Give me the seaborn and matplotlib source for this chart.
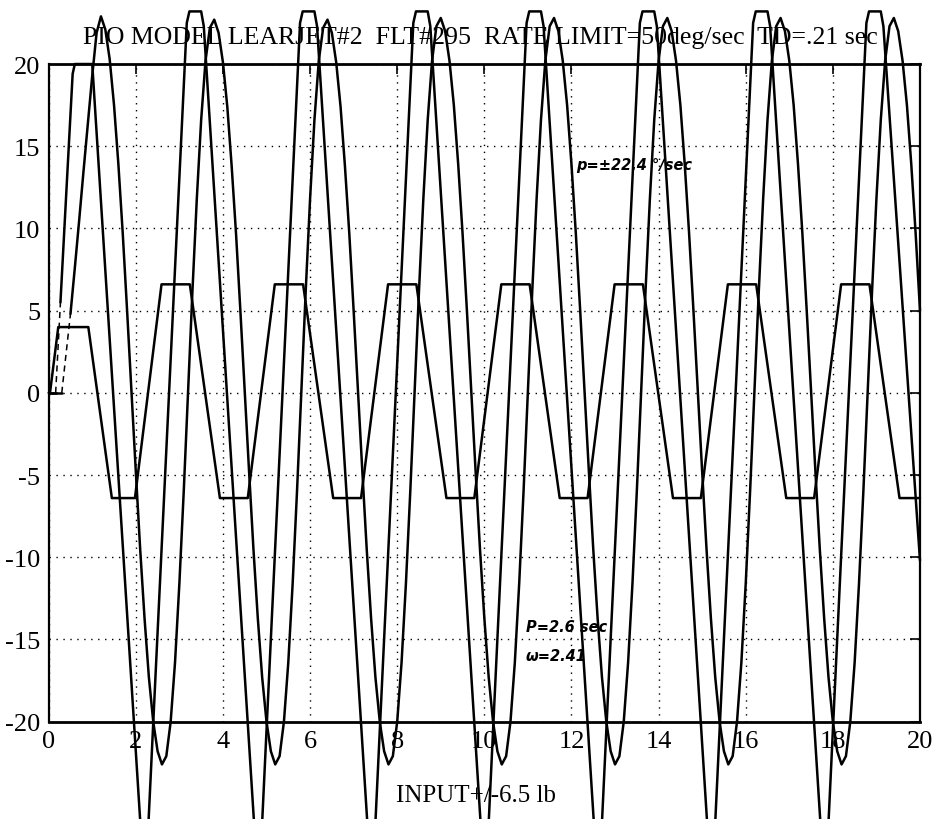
import numpy as np
import matplotlib
matplotlib.use("Agg")
import matplotlib.pyplot as plt
import seaborn as sns

sns.set_theme(style="white")
plt.rcParams['font.family'] = ['Liberation Serif', 'DejaVu Sans']
plt.rcParams['axes.unicode_minus'] = False

# stick input (rate limited trapezoid), corners
input_time = [0.0, 0.03, 0.22, 0.91, 1.45, 1.98,
              2.59, 3.24, 3.93, 4.57, 5.19, 5.84, 6.53, 7.17,
              7.79, 8.44, 9.13, 9.77, 10.39, 11.04, 11.73, 12.37,
              12.99, 13.64, 14.33, 14.97, 15.59, 16.24, 16.93, 17.57,
              18.19, 18.84, 19.53, 20.0]
input_lb = [0.0, 0.0, 4.0, 4.0, -6.4, -6.4,
            6.6, 6.6, -6.4, -6.4, 6.6, 6.6, -6.4, -6.4,
            6.6, 6.6, -6.4, -6.4, 6.6, 6.6, -6.4, -6.4,
            6.6, 6.6, -6.4, -6.4, 6.6, 6.6, -6.4, -6.4,
            6.6, 6.6, -6.4, -6.4]

# rate limited surface (triangle with flat top), vertices
surf_time = [0.0, 0.16, 0.27, 0.55, 0.60, 1.00, 2.21,
             3.17, 3.23, 3.50, 3.56, 4.82,
             5.77, 5.83, 6.10, 6.16, 7.42,
             8.37, 8.43, 8.70, 8.76, 10.02,
             10.97, 11.03, 11.30, 11.36, 12.62,
             13.57, 13.63, 13.90, 13.96, 15.22,
             16.17, 16.23, 16.50, 16.56, 17.82,
             18.77, 18.83, 19.10, 19.16, 20.0]
surf_deg = [0.0, 0.0, 5.5, 19.4, 20.0, 20.0, -30.6,
            22.5, 23.2, 23.2, 22.3, -30.6,
            22.5, 23.2, 23.2, 22.3, -30.6,
            22.5, 23.2, 23.2, 22.3, -30.6,
            22.5, 23.2, 23.2, 22.3, -30.6,
            22.5, 23.2, 23.2, 22.3, -30.6,
            22.5, 23.2, 23.2, 22.3, -30.6,
            22.5, 23.2, 23.2, 22.3, -10.2]

# aircraft response, read every 0.1 sec from 0 to 20 sec
resp_time = [round(0.1 * i, 1) for i in range(201)]
resp_deg = [
    0.0, 0.0, 0.0, 0.0, 2.4, 4.8, 7.6, 10.5, 13.5, 16.4, 19.3, 21.9,
    22.9, 22.1, 20.3, 17.5, 13.9, 9.7, 5.0, 0.1, -4.8, -9.5, -13.7, -17.3, -20.0,
    -21.8, -22.6, -22.1, -20.0, -16.4, -11.6, -6.0, 0.1, 6.2, 11.8, 16.6, 20.2, 22.2,
    22.7, 21.9, 20.1, 17.4, 13.8, 9.7, 5.0, 0.1, -4.8, -9.5, -13.7, -17.3, -20.0,
    -21.8, -22.6, -22.1, -20.0, -16.4, -11.6, -6.0, 0.1, 6.2, 11.8, 16.6, 20.2, 22.2,
    22.7, 21.9, 20.1, 17.4, 13.8, 9.7, 5.0, 0.1, -4.8, -9.5, -13.7, -17.3, -20.0,
    -21.8, -22.6, -22.1, -20.0, -16.4, -11.6, -6.0, 0.1, 6.2, 11.8, 16.6, 20.2, 22.3,
    22.8, 22.0, 20.2, 17.5, 13.9, 9.7, 5.0, 0.1, -4.8, -9.5, -13.7, -17.3, -20.0,
    -21.8, -22.6, -22.1, -20.0, -16.4, -11.6, -6.0, 0.1, 6.2, 11.8, 16.6, 20.2, 22.3,
    22.8, 22.0, 20.2, 17.5, 13.9, 9.7, 5.0, 0.1, -4.8, -9.5, -13.7, -17.3, -20.0,
    -21.8, -22.6, -22.1, -20.0, -16.4, -11.6, -6.0, 0.1, 6.2, 11.8, 16.6, 20.2, 22.3,
    22.8, 22.0, 20.2, 17.5, 13.9, 9.7, 5.0, 0.1, -4.8, -9.5, -13.7, -17.3, -20.0,
    -21.8, -22.6, -22.1, -20.0, -16.4, -11.6, -6.0, 0.1, 6.2, 11.8, 16.6, 20.2, 22.3,
    22.8, 22.0, 20.2, 17.5, 13.9, 9.7, 5.0, 0.1, -4.8, -9.5, -13.7, -17.3, -20.0,
    -21.8, -22.6, -22.1, -20.0, -16.4, -11.6, -6.0, 0.1, 6.2, 11.8, 16.6, 20.2, 22.3,
    22.8, 22.0, 20.2, 17.5, 13.9, 9.7, 5.0,
]
assert len(resp_deg) == len(resp_time)

x_ticks = list(range(0, 21, 2))
y_ticks = list(range(-20, 21, 5))

title = "PIO MODEL LEARJET#2  FLT#295  RATE LIMIT=50deg/sec  TD=.21 sec"
x_label = "INPUT+/-6.5 lb"
notes = [("p=\u00b122.4 \u00b0/sec", 12.1, 13.9),
         ("P=2.6 sec", 10.95, -14.2),
         ("\u03c9=2.41", 10.95, -16.0)]

fig = plt.figure(figsize=(9.38, 8.2), dpi=100)
ax = fig.add_axes([0.0519, 0.1187, 0.9289, 0.802])

line_kw = dict(color="black", linewidth=1.8, estimator=None, sort=False,
               clip_on=False, ax=ax)

# solid parts
sns.lineplot(x=input_time, y=input_lb, **line_kw)
sns.lineplot(x=surf_time[:2], y=surf_deg[:2], **line_kw)
sns.lineplot(x=surf_time[2:], y=surf_deg[2:], **line_kw)
sns.lineplot(x=resp_time[:4], y=resp_deg[:4], **line_kw)
sns.lineplot(x=resp_time[5:], y=resp_deg[5:], **line_kw)
# faint dashed start of the two responses
sns.lineplot(x=surf_time[1:3], y=surf_deg[1:3], linestyle=(0, (4, 3)),
             color="black", linewidth=1.1, estimator=None, sort=False, ax=ax)
sns.lineplot(x=resp_time[3:6], y=resp_deg[3:6], linestyle=(0, (4, 3)),
             color="black", linewidth=1.1, estimator=None, sort=False, ax=ax)

ax.set_xlim(0, 20)
ax.set_ylim(-20, 20)
ax.set_xticks(x_ticks)
ax.set_yticks(y_ticks)
ax.grid(True, color="black", linestyle=(0, (1, 4)), linewidth=1.0)
ax.tick_params(direction="in", length=7, width=1.2, top=True, right=True,
               labelsize=19, colors="black", pad=6)
for side, spine in ax.spines.items():
    spine.set_color("black")
    spine.set_linewidth(2.0 if side in ("top", "bottom") else 1.6)

ax.set_xlabel(x_label, fontsize=18, color="black", labelpad=24)
ax.xaxis.set_label_coords(0.49, -0.095)
ax.set_ylabel("")
fig.text(0.512, 1 - 38 / 820, title, fontsize=18.6, ha="center", va="center",
         color="black")
for txt, tx, ty in notes:
    ax.text(tx, ty, txt, fontsize=10.5, style="italic", fontweight="bold",
            color="black", family=["DejaVu Sans"], va="center")

fig.savefig("out.png", dpi=100)
